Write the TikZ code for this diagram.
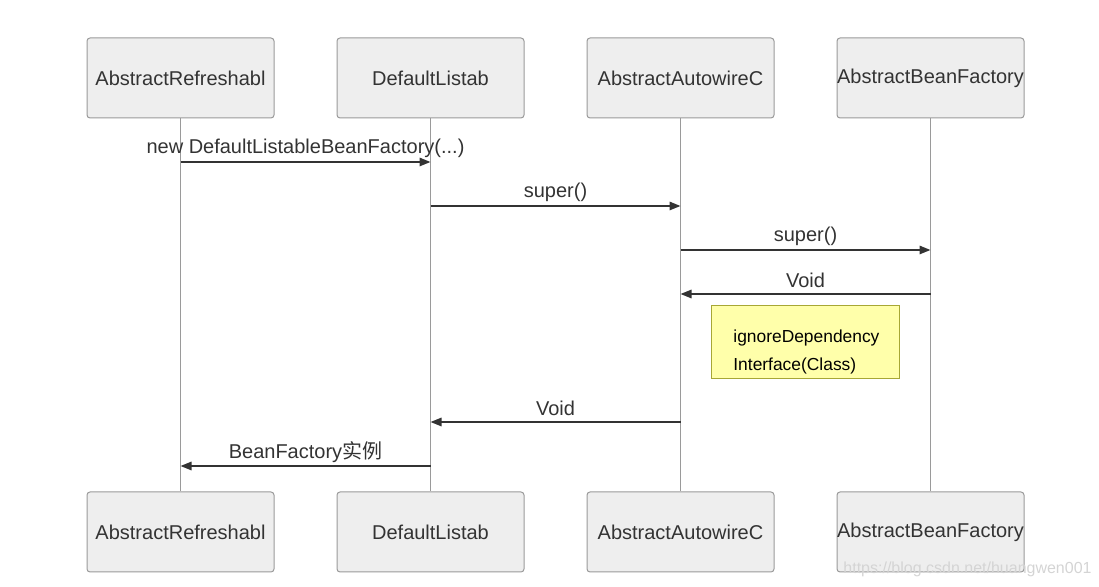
\documentclass[tikz,border=0pt]{standalone}
\usepackage{fontspec}
\setmainfont{Liberation Sans}
\newfontfamily\cjk{Noto Sans CJK SC}
\usetikzlibrary{arrows.meta,positioning}
\definecolor{boxgray}{HTML}{EEEEEE}
\definecolor{boxline}{HTML}{9A9A9A}
\definecolor{msgline}{HTML}{333333}
\definecolor{txtgray}{HTML}{333333}
\definecolor{notefill}{HTML}{FFFFAA}
\definecolor{noteline}{HTML}{A7A735}
\definecolor{marktext}{HTML}{D4D4D4}

\begin{document}
\begin{tikzpicture}[x=0.5pt,y=-0.5pt,font=\fontsize{10}{12}\selectfont,
  actor/.style={draw=boxline,fill=boxgray,rounded corners=1.5pt,line width=0.5pt,
    minimum width=93.5pt,minimum height=40pt,inner sep=0pt,text=txtgray},
  life/.style={boxline,line width=0.5pt},
  msg/.style={msgline,line width=0.9pt,-{Triangle[length=5.5pt,width=4.2pt]}},
  note/.style={draw=noteline,fill=notefill,line width=0.5pt,minimum width=94pt,minimum height=36.5pt,inner sep=0pt}]
  \useasboundingbox (0,0) rectangle (1099,587);
  % lifeline heads and feet
  \foreach \i/\x/\nm in {1/180.5/AbstractRefreshabl,2/430.5/DefaultListab,3/680.5/AbstractAutowireC,4/930.5/AbstractBeanFactory}{
    \node[actor] (t\i) at (\x,78) {\nm};
    \node[actor] (b\i) at (\x,532) {\nm};
    \draw[life] (t\i) -- (b\i);
  }
  % messages
  \foreach \a/\b/\y/\txt/\k in {1/2/162/{new DefaultListableBeanFactory(...)}/1,2/3/206/{super()}/2,
      3/4/250/{super()}/3,4/3/294/{Void}/4,3/2/422/{Void}/5,2/1/466/{BeanFactory{\cjk 实例}}/6}
    \draw[msg] (t\a |- 0,\y) -- (t\b |- 0,\y) node[midway,yshift=6.9pt,text=txtgray] (m\k) {\txt};
  % note
  \node[note] (note) at (805,342.5) {};
  \node[anchor=west,inner sep=0pt,align=left,text=black,font=\fontsize{8.7}{13.5}\selectfont] (notetxt) at (733,352) {ignoreDependency\\Interface(Class)};
  \node[anchor=east,inner sep=0pt,text=marktext,font=\fontsize{8}{10}\selectfont] (mark) at (1092,569) {https://blog.csdn.net/huangwen001};
\end{tikzpicture}
\end{document}
